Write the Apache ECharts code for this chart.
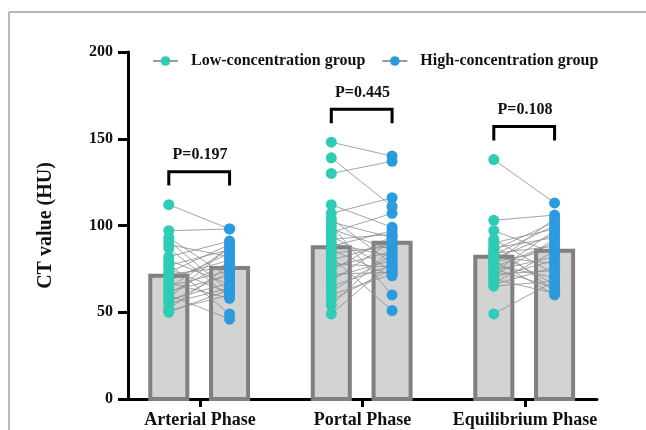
<!DOCTYPE html>
<html>
<head>
<meta charset="utf-8">
<script src="https://cdn.jsdelivr.net/npm/echarts@6/dist/echarts.min.js"></script>
<style>
  html, body { margin: 0; padding: 0; background: #fff; }
  #chart { width: 646px; height: 430px; }
</style>
</head>
<body>
<div id="chart"></div>
<script>
// ---------- data ----------
const categories = ['Arterial Phase', 'Portal Phase', 'Equilibrium Phase'];
const seriesNames = ['Low-concentration group', 'High-concentration group'];
const lowBar = [71, 87.5, 82];
const highBar = [75.5, 90, 85.5];
const pValues = ['P=0.197', 'P=0.445', 'P=0.108'];
const yTicks = [0, 50, 100, 150, 200];

const lowArterial  = [112, 97, 93, 91, 89, 87, 82, 80, 78, 77, 75, 73, 72, 70, 68, 67, 65, 64, 62, 61, 60, 58, 57, 56, 55, 52, 51, 50];
const highArterial = [98, 98, 70, 62, 82, 59, 91, 66, 49, 86, 61, 89, 76, 80, 84, 58, 74, 87, 71, 79, 46, 88, 67, 73, 64, 77, 60, 63];

const lowPortal  = [148, 139, 130, 112, 107, 104, 102, 100, 98, 96, 94, 92, 90, 88, 86, 84, 82, 80, 78, 76, 74, 72, 70, 68, 65, 62, 60, 57, 54, 49];
const highPortal = [140, 111, 137, 99, 116, 78, 93, 60, 86, 107, 74, 95, 82, 97, 71, 88, 51, 90, 76, 85, 94, 73, 80, 91, 77, 83, 72, 75, 87, 79];

const lowEquilibrium  = [138, 103, 97, 92, 90, 89, 87, 86, 85, 84, 83, 82, 81, 80, 79, 78, 77, 76, 75, 74, 73, 72, 71, 70, 69, 67, 66, 65, 49];
const highEquilibrium = [113, 106, 84, 72, 98, 62, 93, 102, 66, 88, 100, 78, 95, 60, 86, 104, 70, 90, 64, 82, 97, 74, 92, 80, 61, 85, 76, 68, 68];

const lowDots = [lowArterial, lowPortal, lowEquilibrium];
const highDots = [highArterial, highPortal, highEquilibrium];

// ---------- layout helpers (not data) ----------
const LOW_OFF = -0.192;
const HIGH_OFF = 0.182;
const BAR_W = 0.228;
const FONT = "'Liberation Serif', 'Times New Roman', serif";
const TEAL = '#2FCCB5';
const BLUE = '#2A9BDE';

const barData = [];
categories.forEach((c, i) => {
  barData.push([i + LOW_OFF, lowBar[i]]);
  barData.push([i + HIGH_OFF, highBar[i]]);
});

const lowScatter = [], highScatter = [], pairLines = [];
categories.forEach((c, i) => {
  lowDots[i].forEach((v, k) => {
    lowScatter.push([i + LOW_OFF, v]);
    highScatter.push([i + HIGH_OFF, highDots[i][k]]);
    pairLines.push({ coords: [[i + LOW_OFF, v], [i + HIGH_OFF, highDots[i][k]]] });
  });
});

const bracketData = categories.map((c, i) => {
  const m = Math.max(...lowDots[i], ...highDots[i]);
  return [i, m + 11];
});

const chart = echarts.init(document.getElementById('chart'), null, { renderer: 'canvas' });

chart.setOption({
  backgroundColor: '#fff',
  animation: false,
  graphic: [
    { type: 'line', shape: { x1: 9, y1: 12, x2: 646, y2: 12 }, style: { stroke: '#a0a0a0', lineWidth: 1.5 } },
    { type: 'line', shape: { x1: 9, y1: 12, x2: 9, y2: 430 }, style: { stroke: '#a0a0a0', lineWidth: 1.5 } }
  ],
  legend: {
    data: seriesNames,
    left: 147,
    top: 48,
    itemWidth: 25,
    itemHeight: 12,
    itemGap: 16,
    textStyle: { fontFamily: FONT, fontWeight: 'bold', fontSize: 16, color: '#111', padding: [0, 0, 0, 8] }
  },
  grid: { left: 128, right: 49, top: 52, bottom: 31, containLabel: false },
  xAxis: {
    type: 'value',
    min: -0.443,
    max: 2.443,
    splitLine: { show: false },
    axisLine: { show: true, onZero: false, lineStyle: { color: '#000', width: 3 } },
    axisTick: { show: true, customValues: [0, 1, 2], length: 8, lineStyle: { color: '#000', width: 3 } },
    axisLabel: {
      show: true,
      customValues: [0, 1, 2],
      formatter: v => categories[Math.round(v)],
      fontFamily: FONT, fontWeight: 'bold', fontSize: 18, color: '#111', margin: 12
    }
  },
  yAxis: {
    type: 'value',
    min: yTicks[0],
    max: yTicks[yTicks.length - 1],
    interval: 50,
    name: 'CT value (HU)',
    nameLocation: 'middle',
    nameGap: 72,
    nameTextStyle: { fontFamily: FONT, fontWeight: 'bold', fontSize: 20, color: '#111' },
    splitLine: { show: false },
    axisLine: { show: true, onZero: false, lineStyle: { color: '#000', width: 3 } },
    axisTick: { show: true, length: 10, lineStyle: { color: '#000', width: 3 } },
    axisLabel: { fontFamily: FONT, fontWeight: 'bold', fontSize: 16, color: '#111', margin: 15 }
  },
  series: [
    {
      type: 'custom',
      name: 'bars',
      z: 1,
      data: barData,
      renderItem: function (params, api) {
        const x = api.value(0), v = api.value(1);
        const p0 = api.coord([x, 0]);
        const p1 = api.coord([x, v]);
        const w = api.size([BAR_W, 0])[0];
        return {
          type: 'rect',
          shape: { x: p0[0] - w / 2, y: p1[1], width: w, height: p0[1] - p1[1] },
          style: { fill: '#D3D3D3', stroke: '#808080', lineWidth: 4 }
        };
      }
    },
    {
      type: 'lines',
      name: 'pairs',
      coordinateSystem: 'cartesian2d',
      z: 2,
      silent: true,
      lineStyle: { color: '#8c8c8c', width: 0.8, opacity: 1 },
      data: pairLines
    },
    {
      type: 'scatter',
      name: 'lowDots',
      z: 3,
      symbolSize: 11,
      itemStyle: { color: TEAL, opacity: 1 },
      data: lowScatter
    },
    {
      type: 'scatter',
      name: 'highDots',
      z: 3,
      symbolSize: 11,
      itemStyle: { color: BLUE, opacity: 1 },
      data: highScatter
    },
    {
      type: 'custom',
      name: 'brackets',
      z: 4,
      data: bracketData,
      renderItem: function (params, api) {
        const i = api.value(0), base = api.value(1);
        const a = api.coord([i + LOW_OFF, base]);
        const b = api.coord([i + LOW_OFF, base + 8]);
        const c = api.coord([i + HIGH_OFF, base + 8]);
        const d = api.coord([i + HIGH_OFF, base]);
        const t = api.coord([i, base + 17.5]);
        return {
          type: 'group',
          children: [
            { type: 'polyline', shape: { points: [a, b, c, d] }, style: { stroke: '#000', lineWidth: 3, fill: null } },
            { type: 'text', x: t[0], y: t[1], style: { text: pValues[params.dataIndex], fontFamily: FONT, fontWeight: 'bold', fontSize: 16, fill: '#111', align: 'center', verticalAlign: 'middle' } }
          ]
        };
      }
    },
    {
      type: 'line', name: seriesNames[0], data: [], symbol: 'circle', symbolSize: 11,
      itemStyle: { color: TEAL }, lineStyle: { color: '#9a9a9a', width: 1 }
    },
    {
      type: 'line', name: seriesNames[1], data: [], symbol: 'circle', symbolSize: 11,
      itemStyle: { color: BLUE }, lineStyle: { color: '#9a9a9a', width: 1 }
    }
  ]
});
</script>
</body>
</html>
